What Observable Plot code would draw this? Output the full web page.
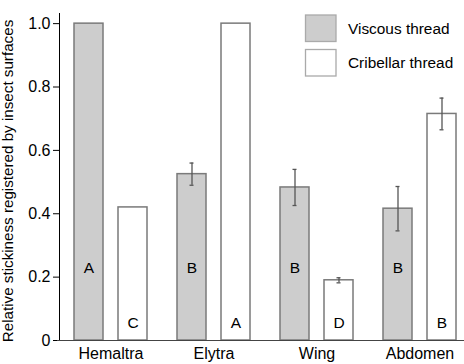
<!DOCTYPE html>
<html><head><meta charset="utf-8">
<script src="https://cdn.jsdelivr.net/npm/d3@7"></script>
<script src="https://cdn.jsdelivr.net/npm/@observablehq/plot@0.6"></script>
<style>
body{margin:0;background:#fff}
#chart svg{display:block}
</style>
</head><body><div id="chart"></div>
<script>
const groups = ["Hemaltra", "Elytra", "Wing", "Abdomen"];
const series = ["Viscous thread", "Cribellar thread"];
const viscous = [1.0, 0.525, 0.483, 0.416];
const cribellar = [0.42, 1.0, 0.19, 0.715];
const viscousErr = [null, 0.035, 0.057, 0.07];
const cribellarErr = [null, null, 0.008, 0.05];
const viscousLetters = ["A", "B", "B", "B"];
const cribellarLetters = ["C", "A", "D", "B"];
const yTicks = [0, 0.2, 0.4, 0.6, 0.8, 1.0];
const yLabel = "Relative stickiness registered by insect surfaces";
const viscousLetterY = 0.23;
const cribellarLetterY = 0.054;

const rows = groups.flatMap((g, i) => [
  {group: g, series: series[0], value: viscous[i], err: viscousErr[i], letter: viscousLetters[i], ly: viscousLetterY},
  {group: g, series: series[1], value: cribellar[i], err: cribellarErr[i], letter: cribellarLetters[i], ly: cribellarLetterY}
]);

const colors = ["#cdcdcd", "#ffffff"];
const FONT = "Arial, 'Liberation Sans', sans-serif";

const chart = Plot.plot({
  width: 464,
  height: 364,
  marginTop: 13,
  marginBottom: 24,
  marginLeft: 56,
  marginRight: 0,
  style: {fontFamily: FONT, fontSize: "16px", color: "#000", background: "#fff"},
  facet: {data: rows, x: "group"},
  fx: {domain: groups, range: [58, 471.5], padding: 0, axis: "bottom", tickSize: 0, tickPadding: 7, label: null},
  x: {domain: series, axis: null, paddingInner: 0.344, paddingOuter: 0.322},
  y: {domain: [0, 1.032], ticks: yTicks, tickFormat: d => d === 0 ? "0" : d.toFixed(1), tickSize: 6, tickPadding: 3, line: true, label: null},
  color: {domain: series, range: colors},
  marks: [
    Plot.barY(rows, {x: "series", y: "value", fill: "series", stroke: "#7a7a7a", strokeWidth: 1.5}),
    Plot.ruleX(rows, {x: "series", y1: d => d.err == null ? NaN : d.value - d.err, y2: d => d.err == null ? NaN : d.value + d.err, stroke: "#555", strokeWidth: 1.3}),
    Plot.tickY(rows, {x: "series", y: d => d.err == null ? NaN : d.value + d.err, stroke: "#555", strokeWidth: 1.3, insetLeft: 12.5, insetRight: 12.5}),
    Plot.tickY(rows, {x: "series", y: d => d.err == null ? NaN : d.value - d.err, stroke: "#555", strokeWidth: 1.3, insetLeft: 12.5, insetRight: 12.5}),
    Plot.text(rows, {x: "series", y: "ly", text: "letter", fontSize: 15.5, fill: "#000"}),
    Plot.ruleY([0], {stroke: "#444", strokeWidth: 1.2, insetLeft: -2})
  ]
});

document.getElementById("chart").appendChild(chart);

const svg = d3.select(chart);
// axis texts at the reference size
svg.selectAll("g[aria-label$='axis'] text, g[aria-label*='axis'] text").style("font-size", "16px").style("font-family", FONT);
svg.selectAll("g[aria-label*='axis']").attr("font-size", 16).style("font-size", "16px");

// y-axis title
svg.append("text")
  .attr("transform", "translate(12.5,181) rotate(-90)")
  .attr("text-anchor", "middle")
  .style("font-size", "15.2px")
  .style("font-family", FONT)
  .attr("fill", "#000")
  .text(yLabel);

// legend
const leg = svg.append("g");
series.forEach((s, i) => {
  const y0 = 15 + i * 34.5;
  leg.append("rect").attr("x", 305.5).attr("y", y0).attr("width", 30.5).attr("height", 26.5)
    .attr("fill", colors[i]).attr("stroke", "#aaa").attr("stroke-width", 1.3);
  leg.append("text").attr("x", 348).attr("y", y0 + 13.3).attr("dy", "0.35em")
    .attr("text-anchor", "start").attr("fill", "#000")
    .style("font-size", "15.4px").style("font-family", FONT).text(s);
});
</script>
</body></html>
